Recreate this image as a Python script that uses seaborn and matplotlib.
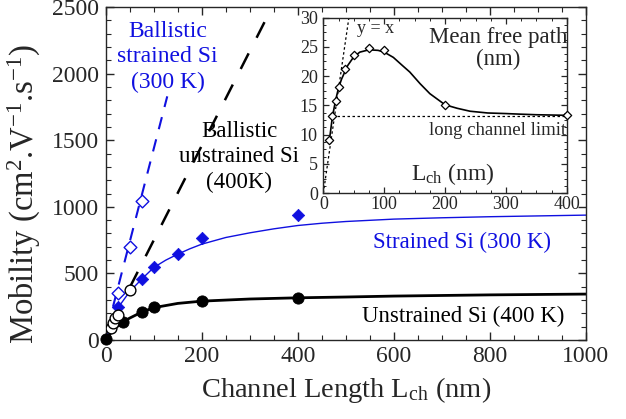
# Mobility vs channel length, with mean free path inset

import matplotlib
matplotlib.use("Agg")
import matplotlib.pyplot as plt
import seaborn as sns
from matplotlib.ticker import MultipleLocator

# ---------------------------
# Data
# ---------------------------

# unstrained Si (400 K), filled circles
unstr_L = [0, 35, 75, 100, 200, 400]
unstr_mu = [10, 135, 212, 248, 293, 313]

# fit through unstrained points
unstr_fit_L = [0, 5, 10, 20, 35, 50, 75, 100, 150, 200, 300, 400, 500, 600, 800, 1000]
unstr_fit_mu = [0, 25, 50, 90, 135, 165, 210, 243, 275, 292, 308, 317, 323, 330, 339, 345]

# ballistic unstrained Si (400 K), open circles
ball_unstr_L = [10, 15, 20, 25, 50]
ball_unstr_mu = [90, 128, 165, 188, 375]
ball_unstr_line_L = [50, 345]
ball_unstr_line_mu = [395, 2490]

# strained Si (300 K), filled diamonds
str_L = [25, 75, 100, 150, 200, 400]
str_mu = [250, 455, 550, 645, 768, 938]

str_fit_L = [0, 10, 25, 50, 75, 100, 125, 150, 175, 200, 250, 300, 350, 400,
             450, 500, 600, 700, 800, 900, 1000]
str_fit_mu = [0, 110, 240, 365, 458, 545, 600, 645, 685, 720, 770, 805, 835, 860,
              877, 890, 908, 918, 926, 932, 938]

# ballistic strained Si (300 K), open diamonds
ball_str_L = [25, 50, 75]
ball_str_mu = [350, 700, 1045]
ball_str_line_L = [15, 128]
ball_str_line_mu = [250, 1830]

# inset: mean free path vs channel length
mfp_L = [10, 15, 20, 25, 35, 50, 75, 100, 200, 400]
mfp = [9.1, 13.1, 15.8, 18.1, 21.2, 23.6, 24.8, 24.5, 15.1, 13.3]
mfp_fit_L = [10, 15, 20, 25, 30, 40, 50, 60, 75, 90, 100, 115, 130, 142, 159, 175,
             200, 220, 241, 270, 300, 323, 350, 400]
mfp_fit = [9.1, 13.1, 15.8, 18.0, 19.5, 21.8, 23.3, 24.1, 24.5, 24.4, 24.1, 23.2,
           21.8, 20.7, 18.7, 17.0, 15.1, 14.5, 14.0, 13.7, 13.6, 13.5, 13.4, 13.3]
yx_L = [0, 42]
yx_val = [0, 30]
limit_L = [15, 400]
limit_val = [13.1, 13.1]

# ---------------------------
# Style
# ---------------------------

sns.set_style("ticks")
plt.rcParams["font.family"] = ["Liberation Serif", "DejaVu Serif"]
plt.rcParams["mathtext.fontset"] = "custom"
plt.rcParams["mathtext.rm"] = "Liberation Serif"
plt.rcParams["mathtext.it"] = "Liberation Serif:italic"
plt.rcParams["axes.linewidth"] = 1.0

BLUE = "#1010e0"

fig = plt.figure(figsize=(6.26, 4.19), dpi=100)
ax = fig.add_axes([0.169, 0.1885, 0.767, 0.7945])

# fits
sns.lineplot(x=unstr_fit_L, y=unstr_fit_mu, ax=ax, color="black", lw=2.0,
             estimator=None, sort=False)
sns.lineplot(x=str_fit_L, y=str_fit_mu, ax=ax, color=BLUE, lw=1.0,
             estimator=None, sort=False)

# ballistic lines
ax.plot(ball_unstr_line_L, ball_unstr_line_mu, color="black", lw=1.8, dashes=(7, 7))
ax.plot(ball_str_line_L, ball_str_line_mu, color=BLUE, lw=1.5, dashes=(6, 5))

# points
sns.scatterplot(x=unstr_L, y=unstr_mu, ax=ax, color="black", marker="o", s=65,
                edgecolor="black", zorder=4, clip_on=False)
sns.scatterplot(x=str_L, y=str_mu, ax=ax, color=BLUE, marker="D", s=40,
                edgecolor=BLUE, zorder=4)
sns.scatterplot(x=ball_str_L, y=ball_str_mu, ax=ax, color="white", marker="D", s=42,
                edgecolor=BLUE, linewidth=1.0, zorder=5)
sns.scatterplot(x=ball_unstr_L, y=ball_unstr_mu, ax=ax, color="white", marker="o",
                s=60, edgecolor="black", linewidth=1.0, zorder=6)

ax.set_xlim(0, 1000)
ax.set_ylim(0, 2500)
ax.xaxis.set_major_locator(MultipleLocator(200))
ax.xaxis.set_minor_locator(MultipleLocator(50))
ax.yaxis.set_major_locator(MultipleLocator(500))
ax.yaxis.set_minor_locator(MultipleLocator(100))
ax.tick_params(which="both", direction="in", top=True, right=True, labelsize=17)
ax.tick_params(which="major", length=6, width=1.0)
ax.tick_params(which="minor", length=3.5, width=0.8)
ax.tick_params(axis="x", pad=4)
ax.tick_params(axis="y", pad=5)

ax.set_xlabel(r"Channel Length L$_{\rm ch}$ (nm)", fontsize=20.5, labelpad=6)
ax.set_ylabel(r"Mobility (cm$^{2}$.V$^{-1}$.s$^{-1}$)", fontsize=23.5)
ax.yaxis.set_label_coords(-0.13, 0.44)

ax.text(129, 2125, "Ballistic\nstrained Si\n(300 K)", color=BLUE, fontsize=17,
        ha="center", va="center", linespacing=1.3)
ax.text(278, 1374, "Ballistic\nunstrained Si\n(400K)", color="black", fontsize=16.5,
        ha="center", va="center", linespacing=1.3)
ax.text(741, 736, "Strained Si (300 K)", color=BLUE, fontsize=16.5,
        ha="center", va="center")
ax.text(745, 180, "Unstrained Si (400 K)", color="black", fontsize=16.5,
        ha="center", va="center")

# ---------------------------
# Inset
# ---------------------------

ins = fig.add_axes([0.5165, 0.539, 0.389, 0.419])
ins.set_facecolor("white")
ins.plot(yx_L, yx_val, color="black", lw=0.9, ls=(0, (2, 2)))
ins.plot(limit_L, limit_val, color="black", lw=0.9, ls=(0, (2, 2)))
sns.lineplot(x=mfp_fit_L, y=mfp_fit, ax=ins, color="black", lw=1.2,
             estimator=None, sort=False)
sns.scatterplot(x=mfp_L, y=mfp, ax=ins, color="white", marker="D", s=18,
                edgecolor="black", linewidth=0.9, zorder=5, clip_on=False)

ins.set_xlim(0, 400)
ins.set_ylim(0, 30)
ins.xaxis.set_major_locator(MultipleLocator(100))
ins.xaxis.set_minor_locator(MultipleLocator(25))
ins.yaxis.set_major_locator(MultipleLocator(5))
ins.yaxis.set_minor_locator(MultipleLocator(1.25))
ins.tick_params(which="both", direction="in", top=True, right=True, labelsize=13)
ins.tick_params(which="major", length=4, width=0.9)
ins.tick_params(which="minor", length=2.5, width=0.7)
ins.tick_params(axis="x", pad=2)
ins.tick_params(axis="y", pad=4)

ins.text(85, 28.1, "y = x", fontsize=13, ha="center", va="center")
ins.text(287, 24.7, "Mean free path\n(nm)", fontsize=16.5, ha="center",
         va="center", linespacing=1.1)
ins.text(286, 10.7, "long channel limit", fontsize=13.5, ha="center", va="center")
ins.text(213, 3.3, r"L$_{\rm ch}$ (nm)", fontsize=17, ha="center", va="center")

plt.savefig("out.png", dpi=100)
plt.close()
